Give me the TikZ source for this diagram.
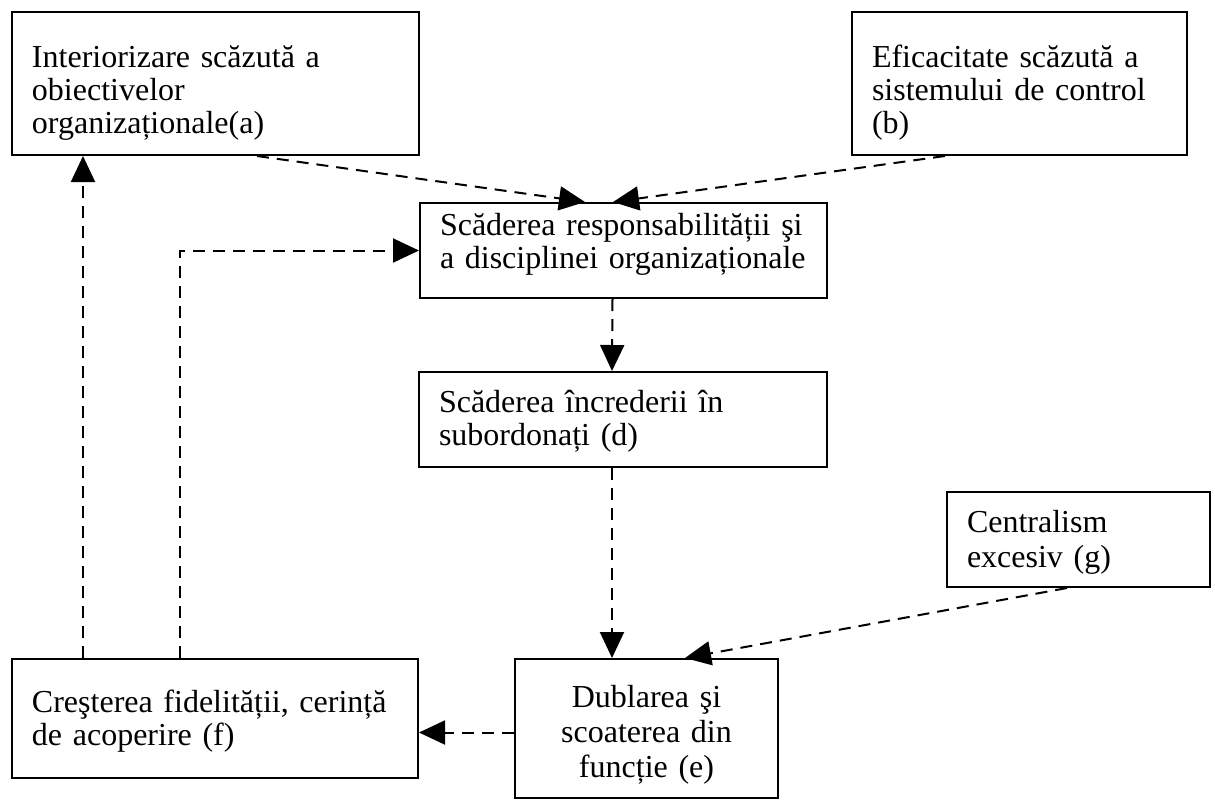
\documentclass[tikz,border=0pt]{standalone}
\usepackage{fontspec}
\setmainfont{Liberation Serif}
\usetikzlibrary{arrows.meta}

\begin{document}
\begin{tikzpicture}[x=0.5pt, y=-0.5pt,
  font=\fontsize{16pt}{16.5pt}\selectfont,
  box/.style={draw, line width=1pt, rectangle, align=left, inner xsep=10pt, inner ysep=0pt},
  link/.style={line width=1pt, dash pattern=on 6pt off 4pt, -{Triangle[length=13pt, width=12pt]}}]

\useasboundingbox (0,0) rectangle (1215,800);

%% top row
\node[box, text width=183.5pt, text height=27.5pt, text depth=44pt] (a) at (215.5,83.5) {Interiorizare scăzută a\\obiectivelor\\organizaționale(a)};
\node[box, text width=147.5pt, text height=27.5pt, text depth=44pt] (b) at (1019.5,83.5) {Eficacitate scăzută a\\sistemului de control\\(b)};

%% middle column
\node[box, text width=183.5pt, text height=16pt, text depth=31.5pt] (c) at (623.5,250.5) {Scăderea responsabilității şi\\a disciplinei organizaționale};
\node[box, text width=184pt, text height=20pt, text depth=27.5pt] (d) at (623,419.5) {Scăderea încrederii în\\subordonați (d)};
\node[box, font=\fontsize{16pt}{17.5pt}\selectfont, text width=111.5pt, text height=20pt, text depth=27.5pt] (g) at (1078.5,539.5) {Centralism\\excesiv (g)};

%% bottom row
\node[box, text width=183pt, text height=26.5pt, text depth=33pt] (f) at (215,718.5) {Creşterea fidelității, cerință\\de acoperire (f)};
\node[box, align=center, font=\fontsize{16pt}{17.5pt}\selectfont, text width=111.5pt, text height=24pt, text depth=45.5pt] (e) at (646.5,728.5) {Dublarea şi\\scoaterea din\\funcție (e)};

%% links
\draw[link] ([xshift=20.75pt]a.south) -- ([xshift=-19.25pt]c.north);
\draw[link] ([xshift=-37.25pt]b.south) -- ([xshift=-5.25pt]c.north);
\draw[link] ([xshift=-5.5pt]c.south) -- ([xshift=-5.5pt]d.north);
\draw[link] ([xshift=-5.5pt]d.south) -- ([xshift=-5.5pt]d.south |- e.north);
\draw[link] ([xshift=-5.75pt]g.south) -- ([xshift=19.25pt]e.north);
\draw[link] ([yshift=-2pt]e.west) -- ([yshift=-2pt]e.west -| f.east);
\draw[link] ([xshift=-66pt]f.north) -- ([xshift=-66pt]f.north |- a.south);
\draw[link] ([xshift=-17.5pt]f.north) |- (c.west);
\end{tikzpicture}
\end{document}
